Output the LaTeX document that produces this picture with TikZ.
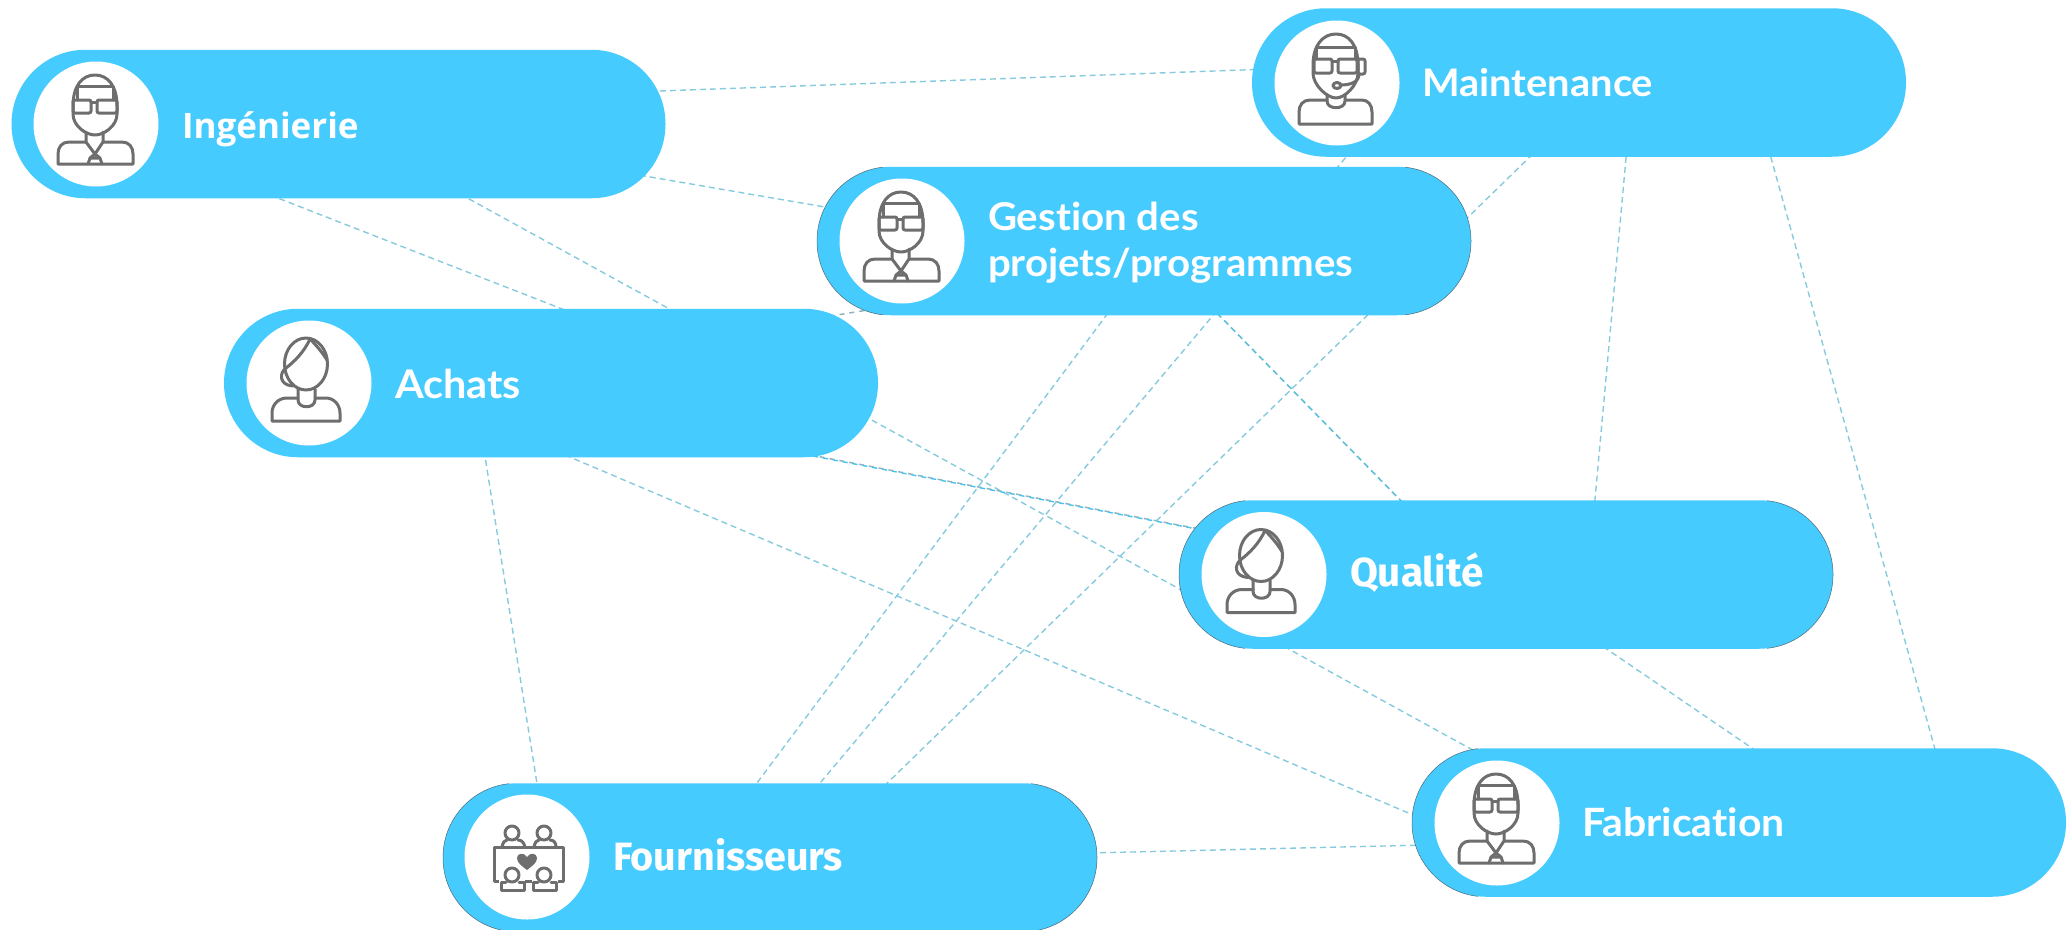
\documentclass[tikz,border=0pt]{standalone}
\usepackage{fontspec}
\usetikzlibrary{calc,backgrounds}
\newfontfamily\fopen{Open Sans}
\newfontfamily\flato[Ligatures=NoCommon,FakeStretch=1.05]{Lato}
\newfontfamily\ffira{Fira Sans}
\definecolor{pillblue}{HTML}{46CBFF}
\definecolor{icongray}{HTML}{6E6E6E}
\definecolor{linkteal}{HTML}{86CBDD}
\definecolor{linkdeep}{HTML}{5FBFD8}
\definecolor{linkbright}{HTML}{46C3EE}
\definecolor{linkgray}{HTML}{8FB4C0}
\definecolor{edgegray}{HTML}{4A6B7A}
\tikzset{
  x=1pt,y=-1pt,
  pill/.style={rectangle,rounded corners=74pt,fill=pillblue,minimum width=654pt,minimum height=148.5pt,inner sep=0pt,outer sep=0pt},
  disc/.style={circle,fill=white,minimum size=125pt,inner sep=0pt,outer sep=0pt},
  lbl/.style={anchor=base west,text=white,inner sep=0pt,outer sep=0pt,align=left},
  link/.style={draw=linkteal,line width=1.4pt,dash pattern=on 6pt off 4pt},
  linkb/.style={draw=linkbright,line width=1.4pt,dash pattern=on 5pt off 5pt,dash phase=6.5pt},
  linkd/.style={draw=linkdeep,line width=1.6pt,dash pattern=on 6pt off 4pt},
  linkg/.style={draw=linkgray,line width=1.5pt,dash pattern=on 5pt off 5pt},
  ico/.style={draw=icongray,line width=3pt,line join=round,line cap=round},
  iconman/.pic={
    \draw[ico] (-23,-18) .. controls (-23,-38) and (-14,-49) .. (-1,-49) .. controls (12,-49) and (21,-38) .. (21,-18) -- (21,-10) .. controls (21,2) and (8,11) .. (-1,11) .. controls (-10,11) and (-23,2) .. (-23,-10) -- cycle;
    \draw[ico] (-19,-24) -- (-19,-38) -- (17,-38) -- (17,-24);
    \draw[ico,rounded corners=2pt] (-23,-24) rectangle (-5,-11);
    \draw[ico,rounded corners=2pt] (1,-24) rectangle (21,-11);
    \draw[ico] (-5,-22) -- (1,-22);
    \draw[ico] (-10,8) -- (-10,18) -- (-1,30) -- (7,18) -- (7,8);
    \draw[ico] (-10,18) -- (-27,18) .. controls (-34,18) and (-38,23) .. (-38,30) -- (-38,40) -- (37,40) -- (37,30) .. controls (37,23) and (33,18) .. (26,18) -- (7,18);
    \draw[ico] (-1,30) -- (-6,34) -- (-8,40) (-1,30) -- (4,34) -- (6,40) (-6,34) -- (4,34);
  },
  iconwoman/.pic={
    \draw[ico] (-3,-19) ellipse [x radius=21.5,y radius=26];
    \draw[ico] (1,-44) .. controls (-5,-31) and (-14,-22) .. (-23,-15);
    \draw[ico] (1,-44) .. controls (7,-38) and (13,-31) .. (18,-23);
    \draw[ico] (-23,-15) .. controls (-30,-10) and (-30,2) .. (-16,3);
    \draw[ico] (-11,6) -- (-11,17) .. controls (-11,26) and (6,26) .. (6,17) -- (6,6);
    \draw[ico] (-11,15) -- (-22,15) .. controls (-31,15) and (-37,22) .. (-37,30) -- (-37,38) -- (31,38) -- (31,30) .. controls (31,22) and (25,15) .. (17,15) -- (6,15);
  },
  iconhead/.pic={
    \draw[ico] (-24,-18) .. controls (-24,-38) and (-14,-49) .. (-1,-49) .. controls (12,-49) and (21,-38) .. (21,-18) -- (21,-10) .. controls (21,2) and (8,15) .. (-1,15) .. controls (-10,15) and (-24,2) .. (-24,-10) -- cycle;
    \draw[ico] (-21,-24) -- (-21,-36) -- (18,-36) -- (18,-24);
    \draw[ico,rounded corners=2pt] (-23,-24) rectangle (-5,-10);
    \draw[ico,rounded corners=2pt] (1,-24) rectangle (20,-10);
    \draw[ico] (-5,-22) -- (1,-22);
    \draw[ico,rounded corners=2pt] (21,-24) rectangle (28,-9);
    \draw[ico] (22,-9) .. controls (22,-1) and (14,2) .. (3,2);
    \draw[ico] (0,2.5) ellipse [x radius=4,y radius=3];
    \draw[ico] (-10,12) -- (-10,18) .. controls (-10,27) and (8,27) .. (8,18) -- (8,12);
    \draw[ico] (-10,17) -- (-27,17) .. controls (-34,17) and (-38,22) .. (-38,29) -- (-38,41) -- (35,41) -- (35,29) .. controls (35,22) and (31,17) .. (25,17) -- (8,17);
  },
  icongroup/.pic={
    \draw[ico,line cap=butt] (-2,-10) -- (5,-10) (-25,-10) -- (-33,-10) -- (-33,24) -- (-28,24) (-2,24) -- (5,24) (31,24) -- (36,24) -- (36,-10) -- (29,-10);
    \draw[ico] (-2,-10) -- (29,-10) (-25,-10) -- (-2,-10);
    \draw[ico] (-15,-24) circle [radius=7];
    \draw[ico] (17,-24) circle [radius=7];
    \draw[ico] (-25,-10) .. controls (-24,-15) and (-22,-17) .. (-20,-17);
    \draw[ico] (-9,-17) .. controls (-5,-17) and (-3,-14) .. (-2,-10);
    \draw[ico] (7,-10) .. controls (8,-15) and (10,-17) .. (12,-17);
    \draw[ico] (23,-17) .. controls (27,-17) and (29,-14) .. (29,-10);
    \draw[ico] (-15,18) circle [radius=7];
    \draw[ico] (17,18) circle [radius=7];
    \draw[ico] (-21,25) -- (-26,25) -- (-26,33) -- (-3,33) -- (-3,25) -- (-8,25);
    \draw[ico] (11,25) -- (6,25) -- (6,33) -- (29,33) -- (29,25) -- (24,25);
    \fill[icongray] (0,13) .. controls (-5,9) and (-10,6) .. (-10,1) .. controls (-10,-4) and (-3,-5) .. (0,0) .. controls (3,-5) and (10,-4) .. (10,1) .. controls (10,6) and (5,9) .. (0,13) -- cycle;
  }
}
\newcommand{\lnk}[5][link]{\draw[#1] ($(#2.center)+(#3)$) -- ($(#4.center)+(#5)$);}
\newcommand{\edgeleft}[1]{\begin{scope}\clip ($(#1.north west)+(-2,-2)$) rectangle ($(#1.south west)+(66,2)$);\draw[edgegray,line width=.5pt,rounded corners=74pt] (#1.south west) rectangle (#1.north east);\end{scope}}
\newcommand{\edgeright}[1]{\begin{scope}\clip ($(#1.north east)+(2,-2)$) rectangle ($(#1.south east)+(-66,2)$);\draw[edgegray,line width=.5pt,rounded corners=74pt] (#1.south west) rectangle (#1.north east);\end{scope}}
\begin{document}
\begin{tikzpicture}
\useasboundingbox (0,0) rectangle (2071,929);
\node[pill] (ing) at (338.5,124) {};
\node[pill] (mai) at (1579,82.5) {};
\node[pill] (ges) at (1144,241) {};
\node[pill] (ach) at (551,383) {};
\node[pill] (qua) at (1506,574.5) {};
\node[pill] (fou) at (770,857.5) {};
\node[pill] (fab) at (1739,822.5) {};
\edgeleft{ges}\edgeright{ges}\edgeleft{qua}\edgeright{qua}\edgeleft{fou}\edgeright{fou}\edgeleft{fab}
\begin{scope}[on background layer]
\fill[white] (0,0) rectangle (2071,929);
\lnk{ing}{301.5,-32.3}{mai}{-309,-13.5}
\lnk{ing}{291.5,49.5}{ges}{-304,-31.4}
\lnk{ing}{-68.5,71}{ach}{24,-69}
\lnk{ing}{121.5,70}{fab}{-259,-68.5}
\lnk[linkg]{ach}{249,70}{qua}{-296,-43.5}
\lnk[linkb]{ach}{249,70.6}{qua}{-296,-43}
\lnk[linkg]{ach}{249,-62}{ges}{-264,67}
\lnk{ach}{-67,67}{fou}{-232,-67.5}
\lnk{ach}{14,72}{fab}{-314,-2.5}
\lnk{fou}{320,-4.5}{fab}{-314,22.5}
\lnk{ges}{-30,64}{fou}{-22,-62.5}
\lnk{mai}{-227,67.5}{fou}{40,-62.5}
\lnk{mai}{-39,64.5}{fou}{105,-62.5}
\lnk{mai}{48,64.5}{qua}{88,-64.5}
\lnk{mai}{189,64.5}{fab}{199,-62.5}
\lnk[linkd]{ges}{66,65}{qua}{-96,-64.5}
\lnk{qua}{89,66.5}{fab}{26,-65.5}
\end{scope}
\node[disc] (ingc) at (96,124) {};
\node[disc] (maic) at (1337,83) {};
\node[disc] (gesc) at (902,241) {};
\node[disc] (achc) at (309,383) {};
\node[disc] (quac) at (1264,574.5) {};
\node[disc] (fouc) at (527,857) {};
\node[disc] (fabc) at (1497,823) {};
\pic at (ingc) {iconman};
\pic at (maic) {iconhead};
\pic at (gesc) {iconman};
\pic at (achc) {iconwoman};
\pic at (quac) {iconwoman};
\pic at (fouc) {icongroup};
\pic at (fabc) {iconman};
\node[lbl,font=\fopen\bfseries\fontsize{35}{35}\selectfont] (ingt) at (182,138) {Ingénierie};
\node[lbl,font=\flato\bfseries\fontsize{38}{38}\selectfont] (mait) at (1422,96) {Maintenance};
\node[lbl,font=\flato\bfseries\fontsize{38.3}{46}\selectfont] (gest1) at (988,230) {Gestion des};
\node[lbl,font=\flato\bfseries\fontsize{38.3}{46}\selectfont] (gest2) at (988,276) {projets/programmes};
\node[lbl,font=\flato\bfseries\fontsize{39.5}{38}\selectfont] (acht) at (395,398) {Achats};
\node[lbl,font=\ffira\bfseries\fontsize{40.5}{38}\selectfont] (quat) at (1350,586) {Qualité};
\node[lbl,font=\ffira\bfseries\fontsize{39.5}{38}\selectfont] (fout) at (613,870) {Fournisseurs};
\node[lbl,font=\flato\bfseries\fontsize{39}{38}\selectfont] (fabt) at (1582,836) {Fabrication};
\end{tikzpicture}
\end{document}
